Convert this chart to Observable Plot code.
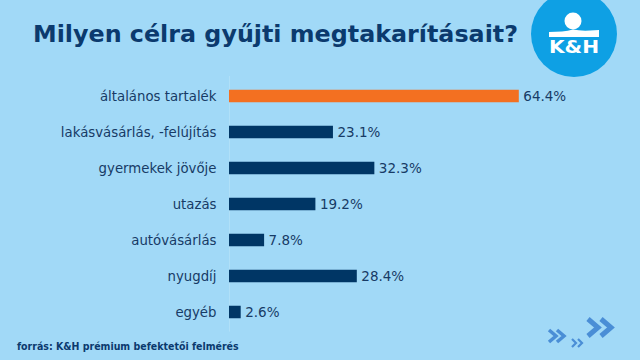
<!DOCTYPE html>
<html><head><meta charset="utf-8">
<script src="https://cdn.jsdelivr.net/npm/d3@7"></script>
<script src="https://cdn.jsdelivr.net/npm/@observablehq/plot@0.6"></script>
<style>
html,body{margin:0;padding:0;}
body{width:640px;height:360px;overflow:hidden;background:#a1d9f7;font-family:"DejaVu Sans",Verdana,sans-serif;}
#wrap{position:relative;width:640px;height:360px;background:#a1d9f7;}
#title{position:absolute;left:33px;top:20px;font-size:23.8px;line-height:28px;font-weight:bold;color:#0b3a6e;white-space:nowrap;}
#chart{position:absolute;left:0;top:76px;}
#foot{position:absolute;left:17px;top:340px;font-family:"DejaVu Sans Condensed","DejaVu Sans",sans-serif;font-weight:bold;font-size:10.5px;color:#0b3a6e;white-space:nowrap;}
#logo,#arrows{position:absolute;left:0;top:0;}
</style></head>
<body><div id="wrap">
<div id="title">Milyen célra gyűjti megtakarításait?</div>
<div id="chart"></div>
<div id="foot">forrás: K&amp;H prémium befektetői felmérés</div>
<svg id="logo" width="640" height="90">
  <circle cx="574" cy="34" r="43" fill="#0ea0e4"/>
  <circle cx="573" cy="21" r="8.5" fill="#fff"/>
  <path d="M549,32 L562,31.5 Q568,31 573,29.5 Q580,31 590,30.5 L599,30 L599,37 L549,37 Z" fill="#fff"/>
  <text x="574" y="53" text-anchor="middle" font-family="DejaVu Sans" font-weight="bold" font-size="17" fill="#fff" textLength="50" lengthAdjust="spacingAndGlyphs">K&amp;H</text>
</svg>
<svg id="arrows" width="640" height="360">
  <g fill="none" stroke="#4a8ed6" stroke-linejoin="miter" stroke-linecap="butt">
    <polyline points="549,330 556,336 549,342" stroke-width="3.5"/>
    <polyline points="557,330 564,336 557,342" stroke-width="3.5"/>
    <polyline points="572,339 576,343 572,347" stroke-width="2.2"/>
    <polyline points="578,339 582,343 578,347" stroke-width="2.2"/>
    <polyline points="588,319 598,327.5 588,336" stroke-width="5"/>
    <polyline points="601,319 611,327.5 601,336" stroke-width="5"/>
  </g>
</svg>
</div>
<script>
const categories = ["általános tartalék","lakásvásárlás, -felújítás","gyermekek jövője","utazás","autóvásárlás","nyugdíj","egyéb"];
const values = [64.4, 23.1, 32.3, 19.2, 7.8, 28.4, 2.6];
const highlight = ["általános tartalék"];
const data = categories.map((c,i)=>({cat:c, value:values[i], hi: highlight.includes(c)}));
const navy = "#003665", orange = "#f37021", textCol = "#173b66";
const chart = Plot.plot({
  width: 640,
  height: 274,
  marginLeft: 229,
  marginRight: 51,
  marginTop: 0,
  marginBottom: 18.5,
  style: {background: "transparent", fontFamily: "DejaVu Sans, Verdana, sans-serif", fontSize: "13px", color: textCol},
  x: {domain: [0, 80], axis: null},
  y: {domain: categories, padding: 0, label: null, axis: null},
  marks: [
    Plot.ruleX([0], {stroke: "#b0e0f8", strokeWidth: 1}),
    Plot.barX(data, {y: "cat", x: "value", fill: d => d.hi ? orange : navy, insetTop: 11.75, insetBottom: 11.75}),
    Plot.text(data, {y: "cat", x: "value", text: d => d.value.toFixed(1) + "%", textAnchor: "start", dx: 4, fill: textCol, fontSize: 13.5}),
    Plot.axisY({tickSize: 0, tickPadding: 13, fontSize: 13.3, fill: textCol, label: null})
  ]
});
document.getElementById("chart").appendChild(chart);
</script>
</body></html>
